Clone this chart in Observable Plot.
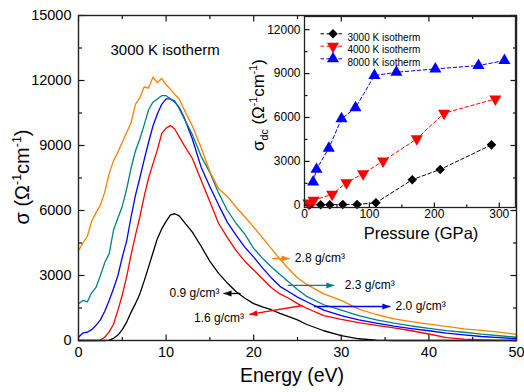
<!DOCTYPE html>
<html><head><meta charset="utf-8">
<script src="https://cdn.jsdelivr.net/npm/d3@7"></script>
<script src="https://cdn.jsdelivr.net/npm/@observablehq/plot@0.6"></script>
<style>
html,body{margin:0;padding:0;background:#fff;}
#wrap{position:relative;width:524px;height:392px;overflow:hidden;background:#fff;}
#wrap svg{position:absolute;top:0;overflow:visible;}
</style></head><body><div id="wrap"></div>
<script>
// ---------- main chart data: optical conductivity vs energy (3000 K isotherm)
const energy = [0,0.5,1,1.5,2,2.5,3,3.5,4,4.5,5,5.5,6,6.5,7,7.5,8,8.5,9,9.5,10,10.5,11,11.5,12,
  13,14,15,16,17,18,19,20,21,22,23,24,25,26,
  28,30,32,34,36,38,40,42,44,46,48,50];
const sigma28 = [4150,4500,4800,5500,5900,6250,6850,7700,8300,8700,9150,9600,10050,10900,11200,11700,11650,12150,11900,12100,11800,11600,11350,11150,10700,
  9900,8900,7800,7000,6650,6150,5700,5230,4750,4250,3750,3300,2900,2600,
  2150,1850,1450,1200,1000,870,760,650,540,470,390,280];
const sigma23 = [1700,1850,1780,2200,2450,3000,3600,4000,5100,5650,6200,7000,7950,8750,9300,9950,10650,11000,11150,11300,11300,11150,11050,10700,10300,
  9500,8500,7750,6800,6000,5400,4900,4250,3800,3400,3050,2700,2350,2050,
  1650,1400,1150,950,800,670,560,460,380,290,220,150];
const sigma20 = [150,350,380,500,700,950,1350,1850,2400,3000,3850,4600,5700,6700,7500,8350,9150,9900,10450,10900,11150,11150,11000,10750,10350,
  9300,8000,7100,6250,5450,4850,4300,3850,3350,2900,2500,2250,2000,1800,
  1400,1150,950,800,660,550,450,340,260,185,130,90];
const sigma16 = [0,0,0,0,0,20,150,400,750,1400,2100,2950,3950,4850,5700,6650,7500,8150,8800,9550,9800,9920,9750,9400,9050,
  8400,7400,6400,5400,4750,4150,3650,3250,2850,2450,2150,1950,1700,1500,
  1150,980,830,700,580,450,300,130,60,30,10,0];
const sigma09 = [0,0,0,0,0,0,0,20,100,250,500,850,1300,1700,2150,2750,3400,4050,4700,5150,5500,5800,5850,5750,5500,
  5000,4350,3650,3100,2650,2250,1950,1700,1550,1420,1250,1100,950,750,
  450,220,80,20,0,0,0,0,0,0,0,0];
const seriesNames = ["0.9 g/cm³","1.6 g/cm³","2.0 g/cm³","2.3 g/cm³","2.8 g/cm³"];
const seriesColors = ["#000000","#ff0000","#0000ff","#008080","#ff8000"];
const seriesValues = [sigma09, sigma16, sigma20, sigma23, sigma28];

// density annotations (arrow tail, arrow head, label anchor in data units)
const annTailE  = [22.1, 23.9, 26.9, 18.5, 25.6];
const annTailS  = [3785, 2540, 1570, 2170, 1615];
const annHeadE  = [24.1, 29.2, 35.6, 16.55, 19.5];
const annHeadS  = [3785, 2540, 1570, 2170, 1200];
const annLabelE = [24.7, 30.4, 36.2, 16.1, 18.9];
const annLabelS = [3785, 2540, 1570, 2170, 1015];
const annText   = ["2.8 g/cm³","2.3 g/cm³","2.0 g/cm³","0.9 g/cm³","1.6 g/cm³"];
const annColor  = ["#ff8000","#008080","#0000ff","#000000","#ff0000"];
const annSide   = ["start","start","start","end","end"];

const xMajor = [0,10,20,30,40,50], xMinor = [5,15,25,35,45];
const yMajor = [0,3000,6000,9000,12000,15000], yMinor = [1500,4500,7500,10500,13500];

// ---------- inset data: dc conductivity vs pressure
const p3000 = [8,25,39,59,81,110,166,209,288];
const s3000 = [30,40,40,50,60,170,1750,2450,4130];
const p4000 = [6,14,42.6,64.6,90.3,121,173,215,294];
const s4000 = [150,350,750,1545,2160,3020,4545,6290,7270];
const p8000 = [13.3,18.5,37.4,57,78.5,107.7,141.5,201.5,268,308];
const s8000 = [1590,2455,3900,5910,6660,8866,9090,9320,9550,9890];
const insetNames = ["3000 K isotherm","4000 K isotherm","8000 K isotherm"];
const insetColors = ["#000000","#ff0000","#0000ff"];
const pMajor = [0,100,200,300], pMinor = [50,150,250];
const sdMajor = [0,3000,6000,9000,12000], sdMinor = [1500,4500,7500,10500];

const FONT = '"Liberation Sans", Arial, Helvetica, sans-serif';

// ---------- helpers
const tick = (len, dir) => ({draw(ctx){
  ctx.moveTo(0,0);
  if (dir==="up") ctx.lineTo(0,-len); else if (dir==="down") ctx.lineTo(0,len);
  else if (dir==="right") ctx.lineTo(len,0); else ctx.lineTo(-len,0);
}});
const hseg = (half) => ({draw(ctx){ ctx.moveTo(-half,0); ctx.lineTo(half,0); }});
const arrowHead = {draw(ctx){ ctx.moveTo(0,0); ctx.lineTo(-3,8); ctx.lineTo(3,8); ctx.closePath(); }};
const tstyle = {fill:"none", stroke:"#111", strokeWidth:1.2};
function ticksFor(xs, ys, xd, yd, len, sides){
  const m = [];
  if (sides.includes("b")) m.push(Plot.dot(xs,{x:d=>d, y:()=>yd[0], symbol:tick(len,"up"), ...tstyle}));
  if (sides.includes("t")) m.push(Plot.dot(xs,{x:d=>d, y:()=>yd[1], symbol:tick(len,"down"), ...tstyle}));
  if (sides.includes("l")) m.push(Plot.dot(ys,{x:()=>xd[0], y:d=>d, symbol:tick(len,"right"), ...tstyle}));
  if (sides.includes("r")) m.push(Plot.dot(ys,{x:()=>xd[1], y:d=>d, symbol:tick(len,"left"), ...tstyle}));
  return m;
}
function addText(svg, {x, y, rotate=0, size, anchor="middle", parts}){
  const t = d3.select(svg).append("text")
    .attr("transform", `translate(${x},${y}) rotate(${rotate})`)
    .attr("text-anchor", anchor).attr("font-size", size)
    .attr("font-family", FONT).attr("fill", "#000");
  let shift = 0;
  for (const [s, kind] of parts){
    const target = kind==="sup" ? -0.42*size : kind==="sub" ? 0.22*size : 0;
    const ts = t.append("tspan").text(s).attr("dy", target - shift);
    if (kind) ts.attr("font-size", 0.62*size);
    shift = target;
  }
}

// ---------- main plot
const W = 524, H = 392;
const mL = 78, mR = 8, mT = 15, mB = 52;
const xD = [0,50], yD = [0,15000];
const xs = d3.scaleLinear(xD, [mL, W-mR]);
const ys = d3.scaleLinear(yD, [H-mB, mT]);
const annIdx = d3.range(annText.length);
const annAngle = annIdx.map(i => {
  const dx = xs(annHeadE[i]) - xs(annTailE[i]);
  const dy = ys(annHeadS[i]) - ys(annTailS[i]);
  return Math.atan2(dx, -dy) * 180 / Math.PI;
});

const lineMarks = seriesValues.map((vals, k) =>
  Plot.line(energy.map((e,i)=>({E:e, s:vals[i]})), {x:"E", y:"s", stroke: seriesColors[k], strokeWidth:1.3}));

const main = Plot.plot({
  width: W, height: H, marginLeft: mL, marginRight: mR, marginTop: mT, marginBottom: mB,
  x: {domain: xD}, y: {domain: yD}, color: {type: "identity"},
  style: {fontFamily: FONT, fontSize: "14.5px", color: "#000", background: "transparent", overflow: "visible"},
  marks: [
    ...lineMarks,
    Plot.link(annIdx, {x1:i=>annTailE[i], y1:i=>annTailS[i], x2:i=>annHeadE[i], y2:i=>annHeadS[i], stroke:i=>annColor[i], strokeWidth:1.3}),
    Plot.dot(annIdx, {x:i=>annHeadE[i], y:i=>annHeadS[i], symbol: arrowHead, rotate:i=>annAngle[i], fill:i=>annColor[i], stroke:"none"}),
    Plot.text(annIdx.filter(i=>annSide[i]==="start"), {x:i=>annLabelE[i], y:i=>annLabelS[i], text:i=>annText[i], textAnchor:"start", fontSize:12, fill:"#000"}),
    Plot.text(annIdx.filter(i=>annSide[i]==="end"), {x:i=>annLabelE[i], y:i=>annLabelS[i], text:i=>annText[i], textAnchor:"end", fontSize:12, fill:"#000"}),
    Plot.text(["3000 K isotherm"], {frameAnchor:"top-left", dx:32, dy:29, text:d=>d, textAnchor:"start", fontSize:15, fill:"#000"}),
    ...ticksFor(xMajor, yMajor, xD, yD, 6, "btlr"),
    ...ticksFor(xMinor, yMinor, xD, yD, 3.5, "btlr"),
    Plot.axisX({ticks: xMajor, tickSize: 0, tickPadding: 6, label: null, tickFormat: d3.format("d"), fontSize: 14.5}),
    Plot.axisY({ticks: yMajor, tickSize: 0, tickPadding: 7, label: null, tickFormat: d3.format("d"), fontSize: 14.5}),
    Plot.frame({stroke: "#222", strokeWidth: 1.4})
  ]
});
main.style.left = "0px";
document.getElementById("wrap").appendChild(main);
addText(main, {x: 29, y: 177, rotate: -90, size: 20, parts: [["σ ("], ["Ω"], ["-1","sup"], ["cm"], ["-1","sup"], [")"]]});
addText(main, {x: 292, y: 382, size: 19.5, parts: [["Energy (eV)"]]});

// ---------- inset plot
const iLeft = 255, iW = 269, iH = 245;
const imL = 49, imR = 9, imT = 16, imB = 38;
const pD = [0,325], sD = [-150,12900];
const insetP = [p3000, p4000, p8000], insetS = [s3000, s4000, s8000];
const insetSym = ["diamond2", "triangle", "triangle"];
const insetRot = [0, 180, 0];
const insetR = [4.3, 4.5, 4.5];
const insetMarks = [];
insetP.forEach((ps, k) => {
  const rows = ps.map((p,i)=>({p, s: insetS[k][i]}));
  insetMarks.push(Plot.line(rows, {x:"p", y:"s", stroke: insetColors[k], strokeWidth: 1, strokeDasharray: "3.5,2.5"}));
  insetMarks.push(Plot.dot(rows, {x:"p", y:"s", symbol: insetSym[k], rotate: insetRot[k], r: insetR[k], fill: insetColors[k], stroke: "none"}));
});
const legendRowsDy = [17.3, 29.7, 42.3];
const legendMarks = [];
insetNames.forEach((name, k) => {
  legendMarks.push(Plot.dot([0], {frameAnchor:"top-left", dx: 28, dy: legendRowsDy[k], symbol: hseg(12), fill:"none", stroke: insetColors[k], strokeWidth: 1, strokeDasharray: "3.5,2.5"}));
  legendMarks.push(Plot.dot([0], {frameAnchor:"top-left", dx: 28.5, dy: legendRowsDy[k], symbol: insetSym[k], rotate: insetRot[k], r: insetR[k], fill: insetColors[k], stroke:"none"}));
  legendMarks.push(Plot.text([name], {frameAnchor:"top-left", dx: 43, dy: legendRowsDy[k], text:d=>d, textAnchor:"start", fontSize: 10, fill:"#000"}));
});
const inset = Plot.plot({
  width: iW, height: iH, marginLeft: imL, marginRight: imR, marginTop: imT, marginBottom: imB,
  x: {domain: pD}, y: {domain: sD},
  style: {fontFamily: FONT, fontSize: "12px", color: "#000", background: "transparent", overflow: "visible"},
  marks: [
    ...insetMarks,
    ...legendMarks,
    ...ticksFor(pMajor, sdMajor, pD, sD, 5, "bl"),
    ...ticksFor(pMinor, sdMinor, pD, sD, 3, "bl"),
    Plot.axisX({ticks: pMajor, tickSize: 0, tickPadding: 2, label: null, tickFormat: d3.format("d"), fontSize: 12}),
    Plot.axisY({ticks: sdMajor, tickSize: 0, tickPadding: 4, label: null, tickFormat: d3.format("d"), fontSize: 12}),
    Plot.frame({stroke: "#222", strokeWidth: 1.3})
  ]
});
inset.style.left = iLeft + "px";
document.getElementById("wrap").appendChild(inset);
addText(inset, {x: 421 - iLeft, y: 239, size: 16.5, parts: [["Pressure (GPa)"]]});
addText(inset, {x: 264 - iLeft, y: 105, rotate: -90, size: 17, parts: [["σ"], ["dc","sub"], [" ("], ["Ω"], ["-1","sup"], ["cm"], ["-1","sup"], [")"]]});
</script>
</body></html>
